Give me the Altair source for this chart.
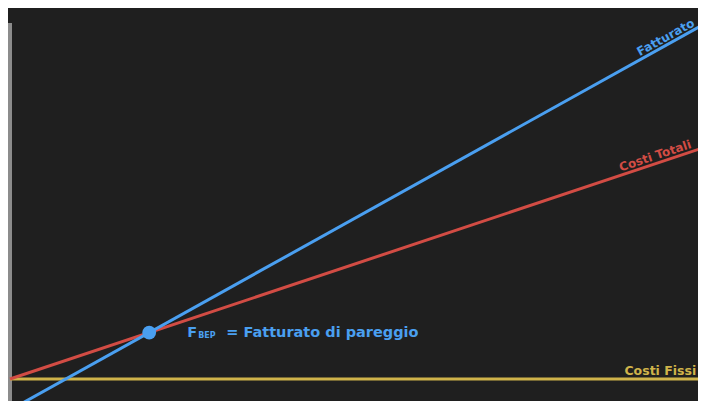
import altair as alt
import pandas as pd

# data (units)
x_pts = [0, 100]
fatturato = [0, 100]
costi_totali = [8, 68]
costi_fissi = [8, 8]
bep_x = [20]
bep_y = [20]
axis_top = [100]

BG = "#1f1f1f"
BLUE = "#4a9ff0"
RED = "#d24c44"
YELLOW = "#cfb34a"
GRAY = "#8c8c8c"
FONT = "DejaVu Sans"

xs = alt.Scale(domain=[-0.287, 98.85], nice=False, zero=False)
ys = alt.Scale(domain=[2.326, 103.88], nice=False, zero=False)

def X(f="x"):
    return alt.X(f"{f}:Q", scale=xs, axis=None)

def Y(f="y"):
    return alt.Y(f"{f}:Q", scale=ys, axis=None)

df_f = pd.DataFrame({"x": x_pts, "y": fatturato})
df_t = pd.DataFrame({"x": x_pts, "y": costi_totali})
df_c = pd.DataFrame({"x": x_pts, "y": costi_fissi})
df_b = pd.DataFrame({"x": bep_x, "y": bep_y})
df_ax = pd.DataFrame({"x": [0], "y": [0], "y2": axis_top})

axis_rule = alt.Chart(df_ax).mark_rule(color=GRAY, strokeWidth=4, clip=True).encode(
    x=X(), y=Y(), y2="y2:Q")

l_fix = alt.Chart(df_c).mark_line(color=YELLOW, strokeWidth=3, clip=True).encode(x=X(), y=Y())
l_tot = alt.Chart(df_t).mark_line(color=RED, strokeWidth=3, clip=True).encode(x=X(), y=Y())
l_fat = alt.Chart(df_f).mark_line(color=BLUE, strokeWidth=3, clip=True).encode(x=X(), y=Y())

dot = alt.Chart(df_b).mark_circle(color=BLUE, size=190, opacity=1).encode(x=X(), y=Y())

def label(text, x, y, color, angle=0, align="center", size=13):
    d = pd.DataFrame({"x": [x], "y": [y], "t": [text]})
    return alt.Chart(d).mark_text(color=color, angle=angle, align=align, baseline="middle",
                                  font=FONT, fontWeight="bold", fontSize=size).encode(
        x=X(), y=Y(), text="t:N")

t_fat = label("Fatturato", 94.2, 96.3, BLUE, angle=331, size=12)
t_tot = label("Costi Totali", 92.7, 65.7, RED, angle=341.5, size=12)
t_fix = label("Costi Fissi", 98.6, 10.1, YELLOW, align="right", size=12.5)

bep_F = alt.Chart(df_b).mark_text(text="F", color=BLUE, align="left", baseline="middle", dx=38,
                                  font=FONT, fontWeight="bold", fontSize=14.5).encode(x=X(), y=Y())
bep_sub = alt.Chart(df_b).mark_text(text="BEP", color=BLUE, align="left", baseline="middle", dx=49, dy=3,
                                    font=FONT, fontWeight="bold", fontSize=8).encode(x=X(), y=Y())
bep_txt = alt.Chart(df_b).mark_text(text="= Fatturato di pareggio", color=BLUE, align="left",
                                    baseline="middle", dx=77,
                                    font=FONT, fontWeight="bold", fontSize=14.5).encode(x=X(), y=Y())

chart = alt.layer(axis_rule, l_fix, l_tot, l_fat, dot, t_fat, t_tot, t_fix, bep_F, bep_sub, bep_txt).properties(
    width=690, height=393, background=BG, padding=0,
    autosize=alt.AutoSizeParams(type="none"),
).configure_view(stroke=None)

chart.save("out.html", embed_options={"renderer": "svg", "actions": False})
